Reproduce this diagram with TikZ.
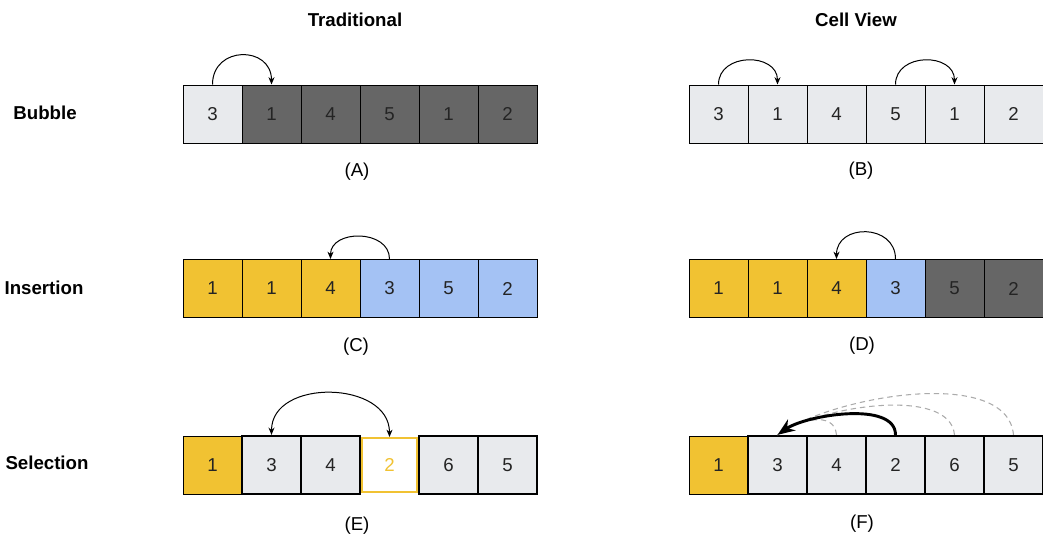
\documentclass[tikz,border=0pt]{standalone}
\usepackage{fontspec}
\setmainfont{Liberation Sans}
\usetikzlibrary{arrows,arrows.meta,positioning}
\definecolor{cellgray}{HTML}{E8EAED}
\definecolor{celldark}{HTML}{666666}
\definecolor{cellyellow}{HTML}{F1C232}
\definecolor{cellblue}{HTML}{A4C2F4}
\definecolor{inkgray}{HTML}{242424}
\definecolor{dashgray}{HTML}{ABABAB}

\begin{document}
\begin{tikzpicture}[x=0.75pt,y=0.75pt,>={Stealth[length=5.5pt,width=4.5pt]},node distance=44.25pt,
  cell/.style={draw,line width=0.75pt,minimum width=44.25pt,minimum height=43.5pt,inner sep=0pt,
    font=\fontsize{14}{16}\selectfont,text=inkgray},
  light/.style={cell,fill=cellgray},
  dark/.style={cell,fill=celldark},
  gold/.style={cell,fill=cellyellow},
  pale/.style={cell,fill=cellblue},
  heavy/.style={line width=1.7pt},
  pick/.style={cell,fill=white,draw=cellyellow,text=cellyellow,line width=1.7pt,
    minimum width=41pt,minimum height=40.3pt},
  caption/.style={font=\fontsize{14}{16}\selectfont},
  title/.style={font=\bfseries\fontsize{14}{16}\selectfont},
  hop/.style={->,line width=0.75pt,out=90,in=90},
  ghost/.style={dash pattern=on 4pt off 3pt,draw=dashgray,line width=0.8pt}
]
\useasboundingbox (0,0) rectangle (1043,-540);

% column and row titles
  \node[title] (trad)   at (355,-20)  {Traditional};
  \node[title] (cellv)  at (856,-20)  {Cell View};
  \node[title] (bubble) at (45,-113)  {Bubble};
  \node[title] (insert) at (44,-288)  {Insertion};
  \node[title] (select) at (47,-463)  {Selection};

% bubble, traditional
  \node[light] (a1) at (212.5,-114) {3};
  \node[dark]  (a2) [right of=a1]   {1};
  \node[dark]  (a3) [right of=a2]   {4};
  \node[dark]  (a4) [right of=a3]   {5};
  \node[dark]  (a5) [right of=a4]   {1};
  \node[dark]  (a6) [right of=a5]   {2};
  \node[caption] (capa) at (357,-172) {(A)};

% bubble, cell view
  \node[light] (b1) at (718.5,-114) {3};
  \node[light] (b2) [right of=b1]   {1};
  \node[light] (b3) [right of=b2]   {4};
  \node[light] (b4) [right of=b3]   {5};
  \node[light] (b5) [right of=b4]   {1};
  \node[light] (b6) [right of=b5]   {2};
  \node[caption] (capb) at (861,-171) {(B)};

% insertion, traditional
  \node[gold] (c1) at (212.5,-288.5) {1};
  \node[gold] (c2) [right of=c1]     {1};
  \node[gold] (c3) [right of=c2]     {4};
  \node[pale] (c4) [right of=c3]     {3};
  \node[pale] (c5) [right of=c4]     {5};
  \node[pale] (c6) [right of=c5]     {2};
  \node[caption] (capc) at (356,-347) {(C)};

% insertion, cell view
  \node[gold] (d1) at (718.5,-288.5) {1};
  \node[gold] (d2) [right of=d1]     {1};
  \node[gold] (d3) [right of=d2]     {4};
  \node[pale] (d4) [right of=d3]     {3};
  \node[dark] (d5) [right of=d4]     {5};
  \node[dark] (d6) [right of=d5]     {2};
  \node[caption] (capd) at (862,-346) {(D)};

% selection, traditional
  \node[gold]        (e1) at (212.5,-465) {1};
  \node[light,heavy] (e2) [right of=e1]   {3};
  \node[light,heavy] (e3) [right of=e2]   {4};
  \node[pick]        (e4) [right of=e3]   {2};
  \node[light,heavy] (e5) [right of=e4]   {6};
  \node[light,heavy] (e6) [right of=e5]   {5};
  \node[caption] (cape) at (357,-526) {(E)};

% selection, cell view
  \node[gold]        (f1) at (718.5,-465) {1};
  \node[light,heavy] (f2) [right of=f1]   {3};
  \node[light,heavy] (f3) [right of=f2]   {4};
  \node[light,heavy] (f4) [right of=f3]   {2};
  \node[light,heavy] (f5) [right of=f4]   {6};
  \node[light,heavy] (f6) [right of=f5]   {5};
  \node[caption] (capf) at (862,-524) {(F)};

% define the swaps
  \draw[hop,looseness=1.7]  (a1.north) to (a2.north);
  \draw[hop,looseness=1.4]  (b1.north) to (b2.north);
  \draw[hop,looseness=1.4]  (b4.north) to (b5.north);
  \draw[hop,looseness=1.3]  (c4.north) to (c3.north);
  \draw[hop,looseness=1.55] (d4.north) to (d3.north);
  \draw[hop,<->,looseness=1.23] (e2.north) to (e4.north);

% compare against the minimum
  \draw[ghost] (f6.north) to[out=95,in=35,looseness=0.75] (f2.north);
  \draw[ghost] (f5.north) to[out=95,in=35,looseness=0.72] (f2.north);
  \draw[ghost] (f3.north) to[out=95,in=35,looseness=1.1]  (f2.north);
  \draw[-{Stealth[length=13pt,width=10pt]},line width=2.2pt]
    (f4.north) to[out=90,in=35,looseness=0.75] (f2.north);
\end{tikzpicture}
\end{document}
